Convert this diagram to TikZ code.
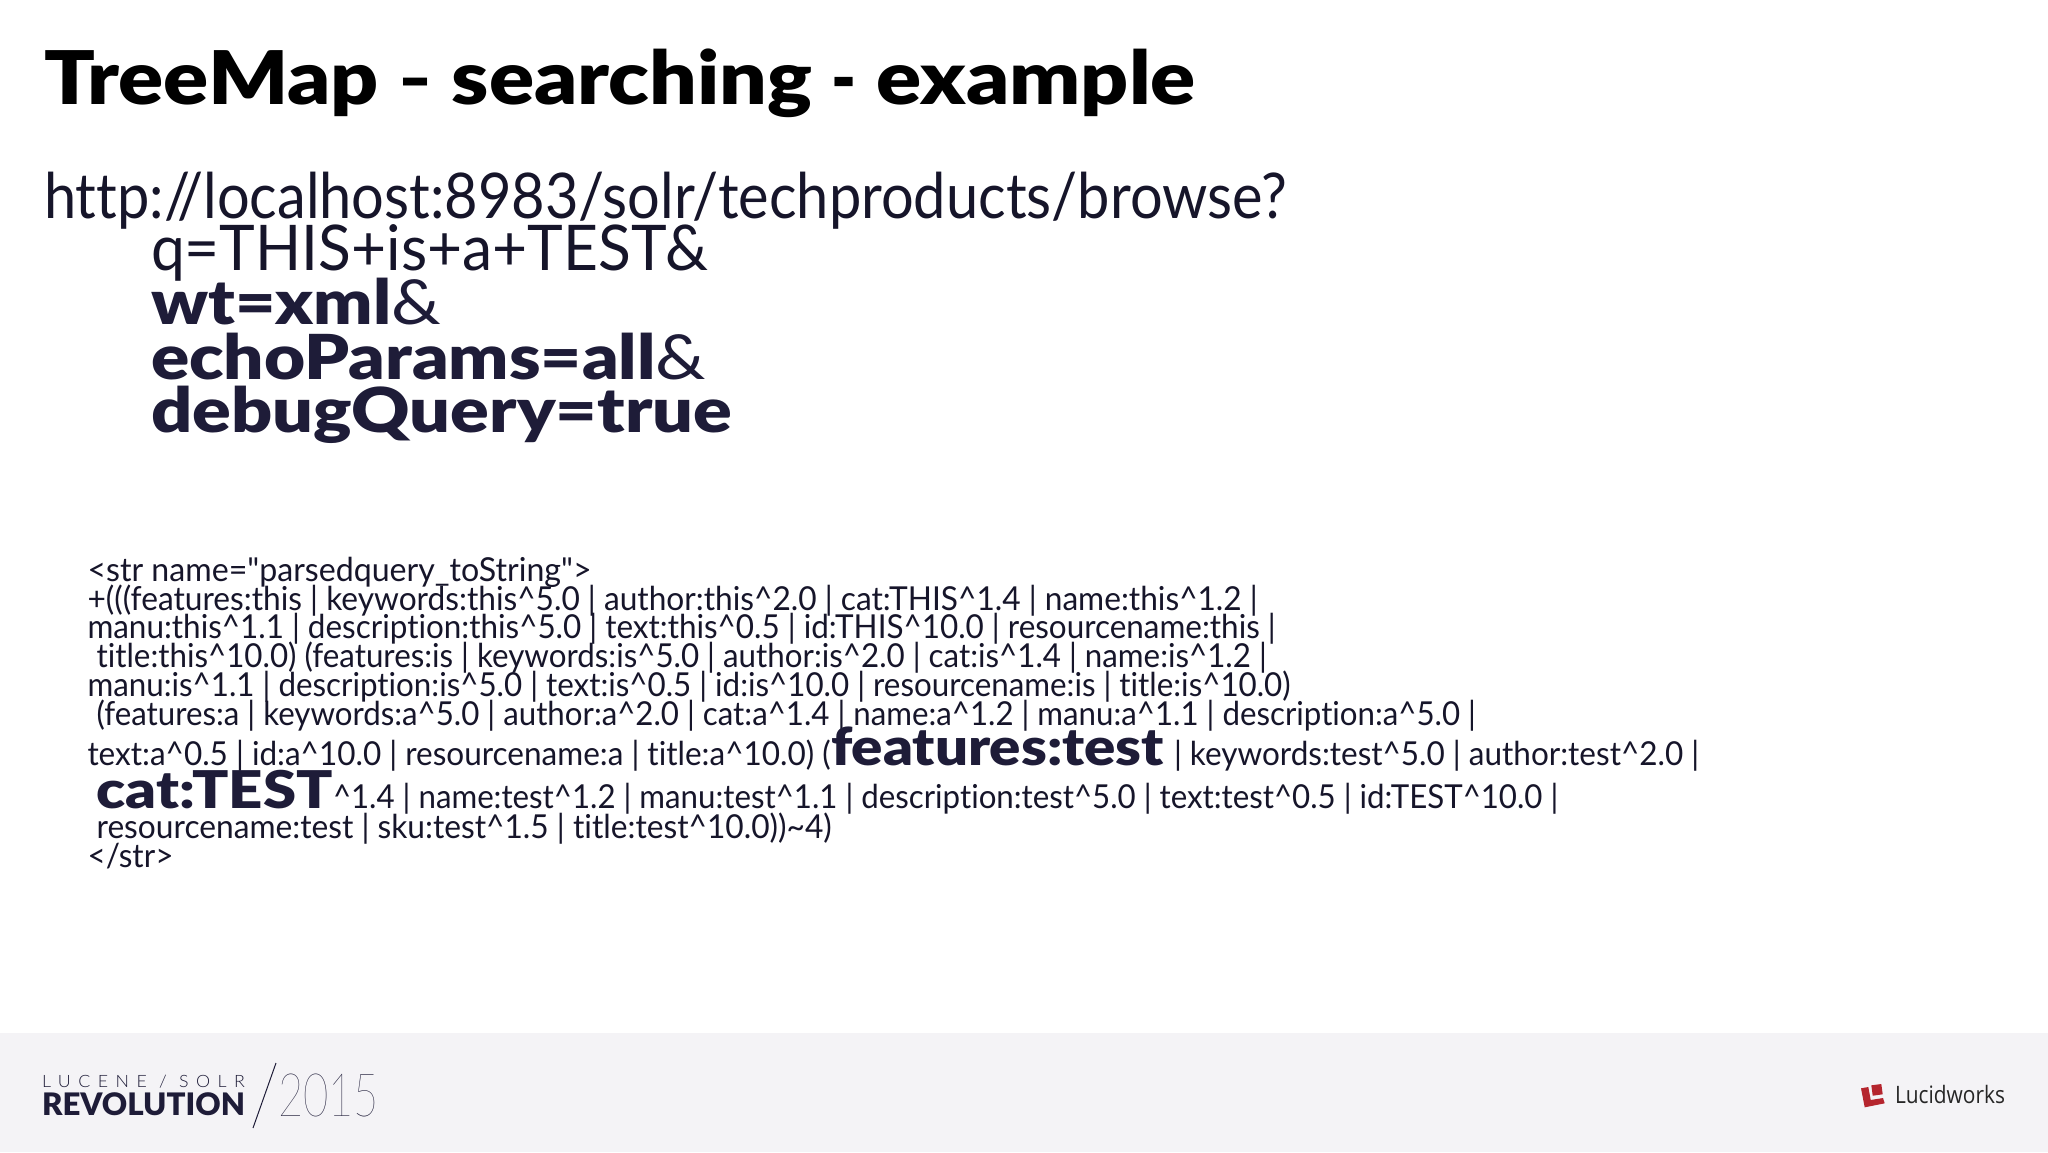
\documentclass[tikz,border=0pt]{standalone}
\usepackage{fontspec}
\usepackage{graphicx}
\setmainfont{Lato}[Ligatures=NoCommon]
\newfontfamily\plainf{Lato}[Ligatures=NoCommon]
\newfontfamily\blk{Lato Black}[Ligatures=NoCommon]
\newfontfamily\lgt{Lato Light}
\newfontfamily\thn{Lato Thin}
\newfontfamily\spaced{Lato Light}[LetterSpace=42]
\newfontfamily\opn{Open Sans}
\definecolor{navy}{HTML}{1E1C38}
\definecolor{ink}{HTML}{16152A}
\definecolor{foot}{HTML}{F4F3F6}
\definecolor{lwred}{HTML}{B5252E}
\newcommand\fitw[2]{\resizebox{#1pt}{\height}{#2}}
\tikzset{
  x=1pt,y=-1pt,
  txt/.style={anchor=base west,inner sep=0pt,outer sep=0pt,text=ink},
  titlefont/.style={font=\blk\fontsize{74}{74}\selectfont,text=black},
  urlfont/.style={font=\plainf\fontsize{63}{63}\selectfont},
  boldfont/.style={font=\blk\fontsize{62}{62}\selectfont,text=navy},
  code/.style={font=\plainf\fontsize{33}{33}\selectfont},
  bigcode/.style={font=\blk\fontsize{52}{52}\selectfont,text=navy},
}
\begin{document}
\begin{tikzpicture}
\useasboundingbox (0,0) rectangle (2048,1152);
\fill[white] (0,0) rectangle (2048,1152);
\fill[foot] (0,1033) rectangle (2048,1152);
\node[txt,titlefont] (title) at (44,104) {\fitw{1152}{TreeMap \scalebox{.7}[1]{–} searching \scalebox{.8}[1]{-} example}};
\node[txt,urlfont] (url) at (44,218) {\fitw{1243}{http://localhost:8983/solr/techproducts/browse?}};
\node[txt,urlfont] (q) at (151,270) {\fitw{557}{q=THIS+is+a+TEST\&}};
\node[txt,boldfont] (wt) at (151,324) {\fitw{290}{wt=xml{\plainf\&}}};
\node[txt,boldfont] (echo) at (151,379) {\fitw{555}{echoParams=all{\plainf\&}}};
\node[txt,boldfont] (debug) at (151,432) {\fitw{581}{debugQuery=true}};
\node[txt,code] (l1) at (87.5,581) {\fitw{504}{<str name="parsedquery\_toString">}};
\node[txt,code] (l2) at (87.5,610) {\fitw{1170}{+(((features:this | keywords:this\^{}5.0 | author:this\^{}2.0 | cat:THIS\^{}1.4 | name:this\^{}1.2 |}};
\node[txt,code] (l3) at (87.5,638) {\fitw{1188}{manu:this\^{}1.1 | description:this\^{}5.0 | text:this\^{}0.5 | id:THIS\^{}10.0 | resourcename:this |}};
\node[txt,code] (l4) at (96.6,667) {\fitw{1170}{title:this\^{}10.0) (features:is | keywords:is\^{}5.0 | author:is\^{}2.0 | cat:is\^{}1.4 | name:is\^{}1.2 |}};
\node[txt,code] (l5) at (87.5,696) {\fitw{1203}{manu:is\^{}1.1 | description:is\^{}5.0 | text:is\^{}0.5 | id:is\^{}10.0 | resourcename:is | title:is\^{}10.0)}};
\node[txt,code] (l6) at (96.6,725) {\fitw{1379}{(features:a | keywords:a\^{}5.0 | author:a\^{}2.0 | cat:a\^{}1.4 | name:a\^{}1.2 | manu:a\^{}1.1 | description:a\^{}5.0 |}};
\node[txt,code] (l7a) at (87.5,765) {\fitw{743}{text:a\^{}0.5 | id:a\^{}10.0 | resourcename:a | title:a\^{}10.0) (}};
\node[txt,bigcode] (l7b) at (831,765) {\fitw{333}{features:test}};
\node[txt,code] (l7c) at (1174,765) {\fitw{525}{| keywords:test\^{}5.0 | author:test\^{}2.0 |}};
\node[txt,bigcode] (l8a) at (96.6,808) {\fitw{236}{cat:TEST}};
\node[txt,code] (l8b) at (333,808) {\fitw{1225}{\^{}1.4 | name:test\^{}1.2 | manu:test\^{}1.1 | description:test\^{}5.0 | text:test\^{}0.5 | id:TEST\^{}10.0 |}};
\node[txt,code] (l9) at (96.6,838) {\fitw{735}{resourcename:test | sku:test\^{}1.5 | title:test\^{}10.0))\textasciitilde 4)}};
\node[txt,code] (l10) at (87.5,867) {\fitw{86}{</str>}};
% logo
\node[txt,font=\spaced\fontsize{17}{17}\selectfont,text=navy] (lucene) at (42,1087) {\fitw{203}{LUCENE / SOLR}};
\node[txt,font=\blk\fontsize{31}{31}\selectfont,text=navy] (rev) at (42,1115) {\fitw{203}{REVOLUTION}};
\coordinate (sa) at (253,1128);
\coordinate (sb) at (276,1063);
\draw[navy,line width=1pt] (sa) -- (sb);
\node[txt,font=\thn\fontsize{60}{60}\selectfont,text=navy] (yr) at (278,1116) {\fitw{101}{2015}};
\fill[lwred] (1861,1088.3) -- (1868.3,1087) -- (1870.7,1100) -- (1883,1098) -- (1884.7,1103.3) -- (1864.7,1107.3) -- cycle;
\fill[lwred] (1871.3,1085.3) -- (1881.3,1084) -- (1882.7,1094.3) -- (1872.7,1095.7) -- cycle;
\node[txt,font=\opn\fontsize{24}{24}\selectfont,text=black!85] (lw) at (1895,1103) {\fitw{110}{Lucidworks}};
\end{tikzpicture}
\end{document}
